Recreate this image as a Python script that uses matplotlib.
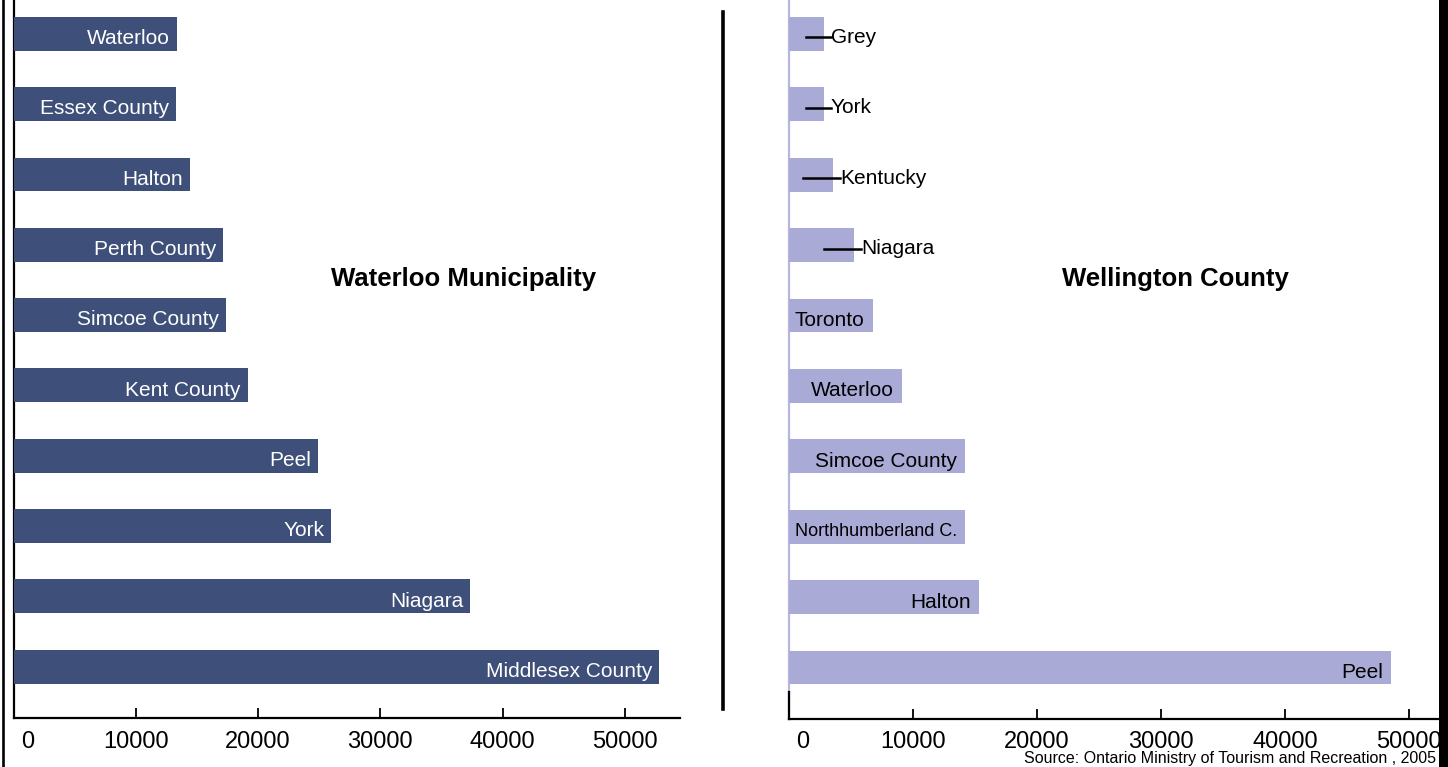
"""
Visitor origins for Waterloo Municipality and Wellington County
"""

import matplotlib.pyplot as plt
import matplotlib.transforms as mtransforms
from matplotlib.lines import Line2D
from matplotlib.patches import Rectangle

# Data, listed bottom bar first
waterloo_regions = ["Middlesex County", "Niagara", "York", "Peel", "Kent County",
                    "Simcoe County", "Perth County", "Halton", "Essex County", "Waterloo"]
waterloo_visitors = [52780, 37330, 25960, 24900, 19170, 17380, 17130, 14430, 13290, 13370]

wellington_regions = ["Peel", "Halton", "Northhumberland C.", "Simcoe County", "Waterloo",
                      "Toronto", "Niagara", "Kentucky", "York", "Grey"]
wellington_visitors = [48550, 15300, 14200, 14190, 9090, 6770, 5240, 3560, 2800, 2800]

x_ticks = [0, 10000, 20000, 30000, 40000, 50000]

# leader lines for labels that sit outside the short bars
leader_len = {"Grey": 2000, "York": 2000, "Kentucky": 3000, "Niagara": 3000}
# labels squeezed to fit their bar
label_size = {"Northhumberland C.": 13}

plt.rcParams['font.family'] = ['Liberation Sans', 'DejaVu Sans']

W, H = 1448, 767
fig = plt.figure(figsize=(W / 100, H / 100), dpi=100)

dark = "#3E5079"
light = "#AAAAD7"


def px(x0, y0, x1, y1):
    # pixel box (top-left origin) -> figure fraction rect
    return [x0 / W, 1 - y1 / H, (x1 - x0) / W, (y1 - y0) / H]


def style_axis(ax, xmax, spine_color):
    ax.set_xlim(0, xmax)
    ax.set_ylim(-0.73, 9.48)
    ax.set_yticks([])
    ax.set_xticks(x_ticks)
    ax.set_xticklabels([str(t) for t in x_ticks])
    ax.tick_params(axis="x", direction="in", length=7, width=1.3, pad=9,
                   labelsize=17, colors="black")
    ax.spines["top"].set_visible(False)
    ax.spines["right"].set_visible(False)
    ax.spines["bottom"].set_linewidth(1.6)
    ax.spines["left"].set_linewidth(1.6)
    ax.spines["left"].set_color(spine_color)
    ax.patch.set_alpha(0)
    # the "0" label sits a little to the right of its tick
    shift = mtransforms.ScaledTranslation(10 / 72, 0, fig.dpi_scale_trans)
    lab0 = ax.get_xticklabels()[0]
    lab0.set_transform(lab0.get_transform() + shift)


# Left panel
ax1 = fig.add_axes(px(13.5, 0, 680, 718))
y = range(len(waterloo_regions))
ax1.barh(y, waterloo_visitors, height=0.48, color=dark, zorder=3)
style_axis(ax1, 54500, "black")
for i, (name, val) in enumerate(zip(waterloo_regions, waterloo_visitors)):
    ax1.annotate(name, xy=(val, i), xytext=(-5, -3.5), textcoords="offset points",
                 ha="right", va="center", color="white", fontsize=15, zorder=4)
ax1.text(0.3198, 0.6362, "Waterloo Municipality", transform=fig.transFigure,
         ha="center", va="center", fontsize=18.5, fontweight="bold")

# Right panel
ax2 = fig.add_axes(px(789, 0, 1440, 719))
y = range(len(wellington_regions))
ax2.barh(y, wellington_visitors, height=0.48, color=light, zorder=3)
style_axis(ax2, 52500, "#B6B6E2")
ax2.plot([0, 0], [0, 0.038], transform=ax2.transAxes, color="black", lw=1.6,
         clip_on=False, zorder=5)
for i, (name, val) in enumerate(zip(wellington_regions, wellington_visitors)):
    size = label_size.get(name, 15)
    if name in leader_len:
        tx = val + 550
        ax2.plot([tx - leader_len[name], tx], [i - 0.05, i - 0.05], color="black",
                 lw=1.8, zorder=4)
        ax2.annotate(name, xy=(tx, i), xytext=(0, -2.5), textcoords="offset points",
                     ha="left", va="center", fontsize=size, zorder=4)
    else:
        ax2.annotate(name, xy=(val, i), xytext=(-6, -3.5), textcoords="offset points",
                     ha="right", va="center", color="black", fontsize=size, zorder=4)
ax2.text(0.8115, 0.6362, "Wellington County", transform=fig.transFigure,
         ha="center", va="center", fontsize=18.5, fontweight="bold")

# Frame lines round the panels
fig.add_artist(Line2D([2.8 / W, 2.8 / W], [0, 1], color="black", lw=1.9))
fig.add_artist(Line2D([722.5 / W, 722.5 / W], [1 - 709 / H, 1 - 12 / H],
                      color="black", lw=2.6))
fig.add_artist(Rectangle((1439 / W, 0), 9 / W, 1, color="black", lw=0))

fig.text(1436 / W, 1 / H, "Source: Ontario Ministry of Tourism and Recreation , 2005",
         ha="right", va="bottom", fontsize=11.5)

fig.savefig("out.png", dpi=100)
